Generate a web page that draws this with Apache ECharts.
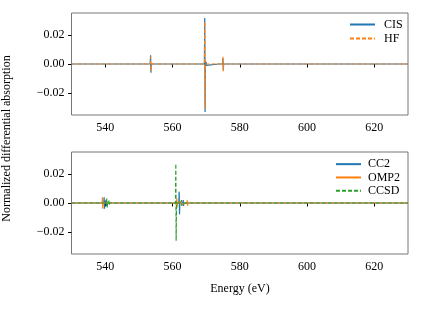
<!DOCTYPE html>
<html>
<head>
<meta charset="utf-8">
<script src="https://cdn.jsdelivr.net/npm/echarts@6/dist/echarts.min.js"></script>
<style>html,body{margin:0;padding:0;background:#fff}#c{width:421px;height:310px}</style>
</head>
<body>
<div id="c"></div>
<script>
// Energy (eV) ticks and value ticks
var xTicks = [540, 560, 580, 600, 620];
var yTicks = [-0.02, 0, 0.02];

// Top panel: [energy, value]
var cis = [[530,0],[546.4,0],[546.5,0.0008],[546.6,-0.0006],[546.7,0],[553.4,0],[553.5,0.006],[553.6,-0.006],[553.7,0],[567.3,0],[567.4,0.001],[567.5,-0.001],[567.6,0],[569.5,0],[569.6,0.0315],[569.7,-0.033],[569.8,0],[570.0,0.0015],[570.1,-0.001],[570.2,0],[573.7,0],[573.8,-0.0012],[573.9,0],[574.9,0],[575.0,0.004],[575.1,-0.004],[575.2,0],[609.0,0],[609.1,0.0005],[609.2,0],[630,0]];
var hf = [[530,0],[546.4,0],[546.5,0.0007],[546.6,-0.0005],[546.7,0],[553.4,0],[553.5,0.005],[553.6,-0.005],[553.7,0],[567.3,0],[567.4,0.0012],[567.5,-0.0008],[567.6,0],[569.5,0],[569.6,0.029],[569.7,-0.031],[569.8,0],[570.0,0.0012],[570.1,-0.001],[570.2,0],[574.9,0],[575.0,0.005],[575.1,-0.005],[575.2,0],[609.0,0],[609.1,0.0004],[609.2,0],[630,0]];

// Bottom panel: [energy, value]
var cc2 = [[530,0],[539.6,0],[539.7,0.004],[539.8,-0.004],[539.9,0],[540.3,0.002],[540.4,-0.002],[540.5,0],[561.9,0],[562.0,0.0078],[562.1,-0.0078],[562.2,0],[563.1,0],[563.2,0.002],[563.3,-0.002],[563.4,0],[566.1,0],[566.2,-0.001],[566.3,0],[630,0]];
var omp2 = [[530,0],[539.1,0],[539.2,0.004],[539.3,-0.004],[539.4,0],[561.2,0],[561.3,0.003],[561.4,-0.003],[561.5,0],[562.5,0.001],[562.6,-0.001],[562.7,0],[564.3,0],[564.4,0.0018],[564.5,-0.0018],[564.6,0],[595.1,0],[595.2,0.001],[595.3,-0.0008],[595.4,0],[630,0]];
var ccsd = [[530,0],[540.4,0],[540.5,0.003],[540.6,-0.003],[540.7,0],[541.0,0],[541.1,0.0015],[541.2,-0.0015],[541.3,0],[543.3,0],[543.4,0.0005],[543.5,0],[560.9,0],[561.0,0.027],[561.1,-0.026],[561.2,0],[562.6,0],[562.7,0.002],[562.8,-0.002],[562.9,0],[568.0,0],[568.1,0.0008],[568.2,0],[630,0]];

var FONT = 'Liberation Serif';
var chart = echarts.init(document.getElementById('c'), null, {renderer: 'canvas'});

function xAx(idx) {
  return {
    type: 'value', gridIndex: idx, min: 530, max: 630,
    axisLine: {show: false},
    axisTick: {show: true, inside: false, customValues: xTicks, length: 3.5, lineStyle: {color: '#000', width: 1}},
    axisLabel: {customValues: xTicks, color: '#000', fontFamily: FONT, fontSize: 12, margin: 7},
    splitLine: {show: false}
  };
}
function yAx(idx) {
  return {
    type: 'value', gridIndex: idx, min: -0.035, max: 0.035,
    axisLine: {show: false},
    axisTick: {show: true, inside: false, customValues: yTicks, length: 3.5, lineStyle: {color: '#000', width: 1}},
    axisLabel: {customValues: yTicks, color: '#000', fontFamily: FONT, fontSize: 12, margin: 7,
      formatter: function (v) { var s = Math.abs(v).toFixed(2); return v < -1e-9 ? '\u2212' + s : s; }},
    splitLine: {show: false}
  };
}
function ser(name, data, color, dashed, idx, z) {
  return {
    name: name, type: 'line', data: data, xAxisIndex: idx, yAxisIndex: idx,
    showSymbol: false, symbol: 'none', animation: false, z: z,
    lineStyle: {color: color, width: 1.2, type: dashed ? [4, 2] : 'solid'},
    itemStyle: {color: color}
  };
}
var legendCommon = {
  orient: 'vertical', itemWidth: 25, itemHeight: 14, itemGap: 0, padding: 0,
  itemStyle: {opacity: 0, borderWidth: 0},
  textStyle: {fontFamily: FONT, fontSize: 12, color: '#000', lineHeight: 14, padding: [0, 0, 0, 4]}
};

chart.setOption({
  animation: false,
  grid: [
    {left: 71.5, top: 13, width: 336.5, height: 102, show: true, borderColor: '#777', borderWidth: 1},
    {left: 71.5, top: 152, width: 336.5, height: 102, show: true, borderColor: '#777', borderWidth: 1}
  ],
  xAxis: [xAx(0), xAx(1)],
  yAxis: [yAx(0), yAx(1)],
  legend: [
    Object.assign({}, legendCommon, {left: 349, top: 17.5, data: ['CIS', 'HF']}),
    Object.assign({}, legendCommon, {left: 335, top: 157.5, itemHeight: 13.3, textStyle: Object.assign({}, legendCommon.textStyle, {lineHeight: 13.3, padding: [0, 0, 0, 2]}), data: ['CC2', 'OMP2', 'CCSD']})
  ],
  series: [
    ser('CIS', cis, '#1f77b4', false, 0, 2),
    ser('HF', hf, '#ff7f0e', true, 0, 3),
    ser('CC2', cc2, '#1f77b4', false, 1, 2),
    ser('OMP2', omp2, '#ff7f0e', false, 1, 3),
    ser('CCSD', ccsd, '#2ca02c', true, 1, 4)
  ],
  graphic: [
    {type: 'text', x: 7, y: 138.5, rotation: Math.PI / 2,
      style: {text: 'Normalized differential absorption', fontFamily: FONT, fontSize: 12, fill: '#000', align: 'center', verticalAlign: 'middle'}},
    {type: 'text', x: 240, y: 288.5,
      style: {text: 'Energy (eV)', fontFamily: FONT, fontSize: 12, fill: '#000', align: 'center', verticalAlign: 'middle'}}
  ]
});
</script>
</body>
</html>
